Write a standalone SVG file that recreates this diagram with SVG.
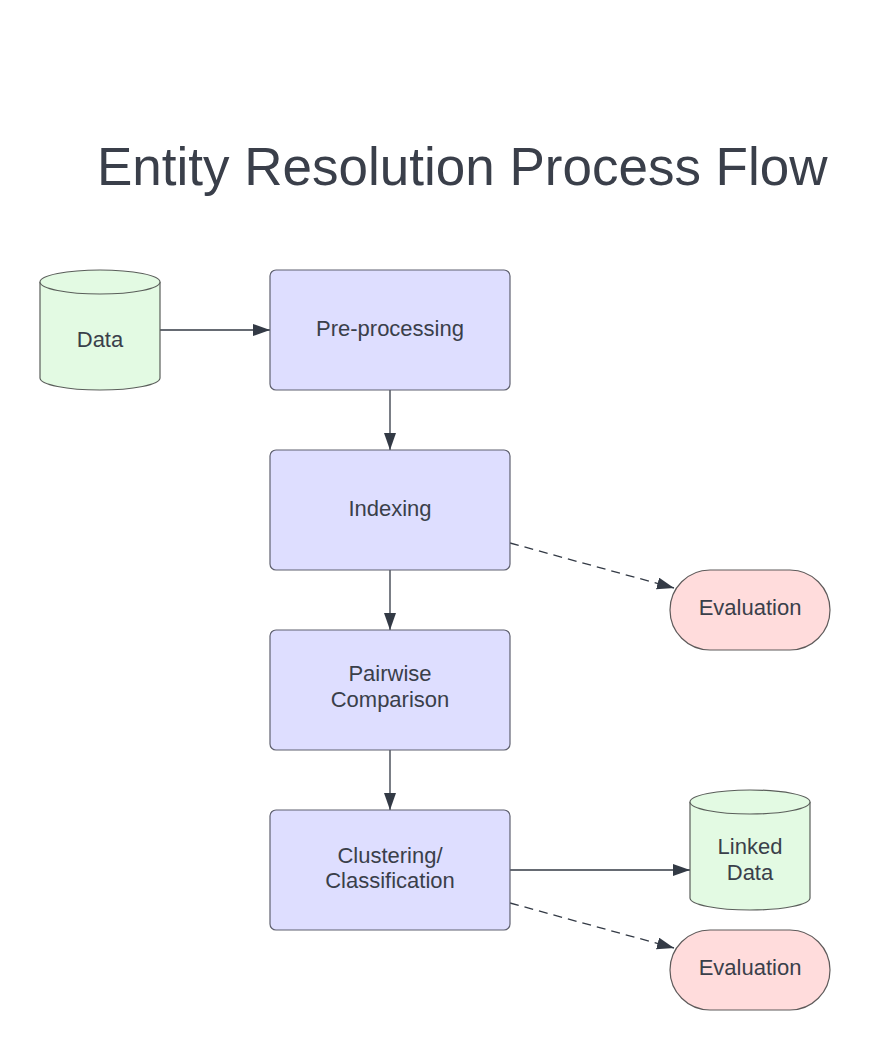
<svg xmlns="http://www.w3.org/2000/svg" width="890" height="1050" viewBox="0 0 890 1050">
<defs>
<style>
.t{font-family:"Liberation Sans",Arial,sans-serif;fill:#3a3f4a;}
.lbl{font-size:22px;text-anchor:middle;}
.proc{fill:#dedeff;stroke:#5f6170;stroke-width:1.2;}
.db{fill:#e3fae3;stroke:#5a5e5a;stroke-width:1.2;}
.ev{fill:#ffdcdc;stroke:#5e5a5a;stroke-width:1.2;}
.ln{fill:none;stroke:#333a45;stroke-width:1.3;}
.dash{stroke-dasharray:9 6;}
</style>
<marker id="ah" markerUnits="userSpaceOnUse" markerWidth="18" markerHeight="14" refX="17" refY="6" orient="auto">
<path d="M0,0 L17,6 L0,12 Z" fill="#333a45"/>
</marker>
</defs>
<rect width="890" height="1050" fill="#ffffff"/>
<text class="t" x="97" y="185" font-size="53">Entity Resolution Process Flow</text>

<g id="connectors">
<line class="ln" x1="160" y1="330" x2="270" y2="330" marker-end="url(#ah)"/>
<line class="ln" x1="390" y1="390" x2="390" y2="450" marker-end="url(#ah)"/>
<line class="ln" x1="390" y1="570" x2="390" y2="630" marker-end="url(#ah)"/>
<line class="ln" x1="390" y1="750" x2="390" y2="810" marker-end="url(#ah)"/>
<line class="ln dash" x1="510" y1="543" x2="674" y2="588" marker-end="url(#ah)"/>
<line class="ln" x1="510" y1="870" x2="690" y2="870" marker-end="url(#ah)"/>
<line class="ln dash" x1="510" y1="903" x2="674" y2="948" marker-end="url(#ah)"/>
</g>

<g id="data">
<path class="db" d="M40,282 A60,12 0 0 1 160,282 L160,378 A60,12 0 0 1 40,378 Z"/>
<path class="db" d="M40,282 A60,12 0 0 0 160,282" fill="none"/>
<text class="t lbl" x="100" y="347">Data</text>
</g>

<g id="preprocessing">
<rect class="proc" x="270" y="270" width="240" height="120" rx="6"/>
<text class="t lbl" x="390" y="336">Pre-processing</text>
</g>

<g id="indexing">
<rect class="proc" x="270" y="450" width="240" height="120" rx="6"/>
<text class="t lbl" x="390" y="516">Indexing</text>
</g>

<g id="pairwise">
<rect class="proc" x="270" y="630" width="240" height="120" rx="6"/>
<text class="t lbl" x="390" y="681">Pairwise</text>
<text class="t lbl" x="390" y="707">Comparison</text>
</g>

<g id="clustering">
<rect class="proc" x="270" y="810" width="240" height="120" rx="6"/>
<text class="t lbl" x="390" y="863">Clustering/</text>
<text class="t lbl" x="390" y="888">Classification</text>
</g>

<g id="evaluation1">
<rect class="ev" x="670" y="570" width="160" height="80" rx="40"/>
<text class="t lbl" x="750" y="615">Evaluation</text>
</g>

<g id="linkeddata">
<path class="db" d="M690,802 A60,12 0 0 1 810,802 L810,898 A60,12 0 0 1 690,898 Z"/>
<path class="db" d="M690,802 A60,12 0 0 0 810,802" fill="none"/>
<text class="t lbl" x="750" y="854">Linked</text>
<text class="t lbl" x="750" y="880">Data</text>
</g>

<g id="evaluation2">
<rect class="ev" x="670" y="930" width="160" height="80" rx="40"/>
<text class="t lbl" x="750" y="975">Evaluation</text>
</g>
</svg>
